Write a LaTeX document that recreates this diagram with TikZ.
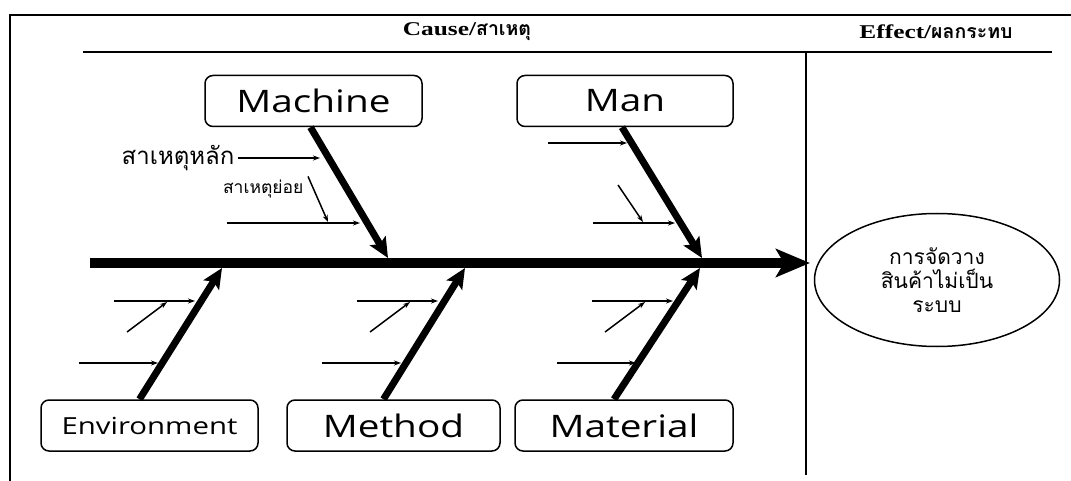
\documentclass[tikz,border=0pt]{standalone}
\usepackage{fontspec}
\usepackage{tikz}
\usetikzlibrary{arrows.meta,shapes.geometric}
\newfontfamily\catfont[FakeStretch=1.25]{Open Sans}
\newfontfamily\thaifont[Script=Thai]{Loma}
\newfontfamily\headfont[FakeStretch=1.3]{Liberation Serif}
\tikzset{
    Frame/.style = {line width=1.5pt},
    Rule/.style = {line width=2.5pt},
    Heading/.style = {font=\headfont\bfseries\fontsize{19.5}{22}\selectfont},
    Category/.style = {draw,rounded corners=8pt,line width=1.5pt,minimum height=51pt,
        font=\catfont\fontsize{31}{36}\selectfont},
    Spine/.style = {line width=10pt,-{Stealth[length=34pt,width=28pt,inset=8pt]}},
    Bone/.style = {line width=7pt,-{Stealth[length=20pt,width=18pt,inset=4pt]}},
    SubCause/.style = {line width=1.5pt,-{Stealth[length=7pt,width=5pt]}}
}
\begin{document}
\begin{tikzpicture}[x=1pt,y=-1pt]
    \useasboundingbox (0,0) rectangle (1071,481);
    % frame and headings
    \draw[Frame] (1071,15) -- (10,15) -- (10,481);
    \node[Heading] (cause) at (467,32) {Cause/{\thaifont\bfseries สาเหตุ}};
    \node[Heading] (effectHead) at (936,32) {Effect/{\thaifont\bfseries ผลกระทบ}};
    \draw[Rule] (83,52) -- (1052,52);
    \draw[Rule] (806,52) -- (806,475);

    % spine and effect
    \coordinate (tail) at (90,263);
    \coordinate (head) at (810,263);
    \draw[Spine] (tail) -- (head);
    \node[ellipse,draw,line width=1.5pt,minimum width=245pt,minimum height=133pt,
        align=center,font=\thaifont\fontsize{21}{24}\selectfont] (effect) at (937,280)
        {การจัดวาง\\สินค้าไม่เป็น\\ระบบ};

    % categories
    \node[Category,minimum width=217pt] (machine) at (313.5,101) {Machine};
    \node[Category,minimum width=216pt] (man) at (625,101) {Man};
    \node[Category,minimum width=217pt,font=\catfont\fontsize{23.5}{28}\selectfont]
        (environment) at (149.5,425.5) {Environment};
    \node[Category,minimum width=213pt] (method) at (393.5,425.5) {Method};
    \node[Category,minimum width=218pt] (material) at (624,425.5) {Material};

    % upper bones
    \coordinate (machineTip) at (388,258);
    \coordinate (manTip) at (702,258);
    \draw[Bone] ([xshift=-3pt]machine.south) -- (machineTip);
    \draw[Bone] ([xshift=-3pt]man.south) -- (manTip);
    \node[font=\thaifont\fontsize{24}{28}\selectfont,anchor=east] (mainLbl) at (238,158) {สาเหตุหลัก};
    \node[font=\thaifont\fontsize{17.5}{20}\selectfont,anchor=east] (subLbl) at (307,189) {สาเหตุย่อย};
    \draw[SubCause] (mainLbl.east) -- ([shift={(-68,-100)}]machineTip);
    \draw[SubCause] ([shift={(-161,-35)}]machineTip) -- ([shift={(-28,-35)}]machineTip);
    \draw[SubCause] ([xshift=1pt]subLbl.north east) -- ([shift={(-60,-36)}]machineTip);
    \draw[SubCause] ([shift={(-154,-115)}]manTip) -- ([shift={(-75,-115)}]manTip);
    \draw[SubCause] ([shift={(-109,-35)}]manTip) -- ([shift={(-27,-35)}]manTip);
    \draw[SubCause] ([shift={(-84,-73)}]manTip) -- ([shift={(-59,-36)}]manTip);

    % lower bones
    \foreach \cat/\tx in {environment/222,method/465,material/700}
        {\coordinate (\cat Tip) at (\tx,268);
        \draw[Bone] ([xshift=-10pt]\cat.north) -- (\cat Tip);
        \draw[SubCause] ([shift={(-108,33)}]\cat Tip) -- ([shift={(-27,33)}]\cat Tip);
        \draw[SubCause] ([shift={(-95,64)}]\cat Tip) -- ([shift={(-55,34)}]\cat Tip);
        \draw[SubCause] ([shift={(-143,95)}]\cat Tip) -- ([shift={(-64,95)}]\cat Tip);}
\end{tikzpicture}
\end{document}
